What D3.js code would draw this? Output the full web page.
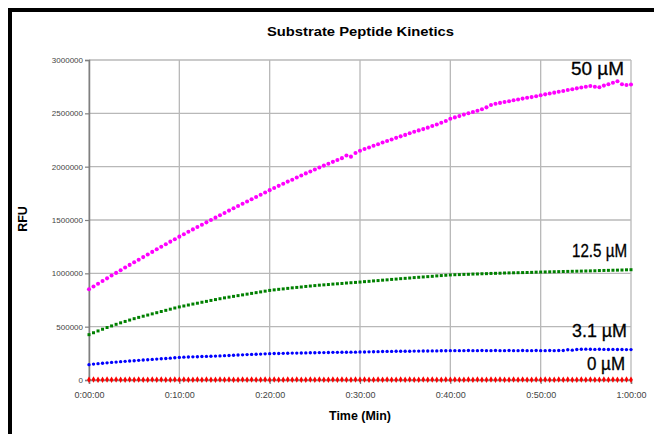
<!DOCTYPE html>
<head>
<meta charset="utf-8">
<title>Substrate Peptide Kinetics</title>
<style>
    body { margin:0; background:#fff; }
    svg { display:block; }
    text { font-family: Arial, "Liberation Sans", sans-serif; }
</style>
</head>
<body>
<svg width="654" height="434"></svg>

<script src="https://cdnjs.cloudflare.com/ajax/libs/d3/7.8.5/d3.min.js"></script>
<script>
// readings every 30 s, 0:00:00 .. 1:00:00 (RFU in thousands)
var minutes = d3.range(121).map(function(i){ return i * 0.5 });

var rfu50 = [850,876,902,928,953,979,1004,1029,1054,1079,1104,1128,1152,1177,1201,1225,1249,1273,1297,1320,1344,
  1367,1389,1412,1434,1456,1478,1500,1522,1544,1566,1588,1610,1631,1652,1674,1695,1716,1737,1758,1780,
  1800,1820,1840,1860,1878,1898,1917,1937,1955,1974,1992,2010,2027,2045,2062,2080,2104,2094,2128,2150,
  2166,2180,2196,2211,2226,2240,2254,2270,2284,2298,2314,2328,2340,2352,2366,2382,2396,2412,2428,2450,
  2462,2474,2488,2500,2512,2524,2538,2556,2578,2590,2598,2606,2614,2622,2630,2638,2646,2652,2660,2670,
  2678,2686,2694,2702,2710,2718,2726,2734,2742,2750,2756,2750,2744,2760,2772,2786,2800,2772,2766,2770];

var rfu12_5 = [425,443,460,476,492,507,522,536,549,562,575,
  587,598,609,620,631,642,653,664,675,685,
  694,703,712,720,729,737,746,754,762,770,
  777,784,791,798,805,812,819,826,833,840,
  845,850,854,859,864,868,872,877,881,885,
  889,892,895,899,902,905,909,912,915,918,
  922,925,929,932,936,939,943,946,950,953,
  956,960,963,966,969,972,976,979,982,985,
  987,988,990,991,993,994,996,997,999,1000,
  1001,1003,1004,1005,1006,1007,1008,1009,1011,1012,
  1013,1014,1015,1016,1017,1018,1019,1020,1021,1022,
  1023,1024,1026,1027,1028,1029,1030,1031,1033,1034];

var rfu3_1 = [144,149,153,157,161,165,168,172,175,178,181,
  184,187,190,193,196,199,202,205,209,212,
  214,215,217,218,220,221,223,224,226,228,
  230,232,234,236,238,240,241,243,245,247,
  248,249,250,251,252,252,253,254,255,256,
  257,257,258,259,259,260,260,261,261,262,
  263,264,265,266,267,268,268,269,269,270,
  270,271,271,272,272,273,273,274,274,275,
  275,275,275,276,275,275,276,275,275,276,
  275,275,276,275,275,276,275,275,276,275,
  275,276,275,276,276,284,280,286,288,289,
  288,287,288,287,286,287,286,286,285,285];

var rfu0 = [3,4,3,3,4,3,4,3,3,4,3,4,3,3,4,3,4,3,3,4,3,
  4,3,3,4,3,4,3,3,4,3,4,3,3,4,3,4,3,3,4,3,
  4,3,3,4,3,4,3,3,4,3,4,3,3,4,3,4,3,3,4,3,
  4,3,3,4,3,4,3,3,4,3,4,3,3,4,3,4,3,3,4,3,
  4,3,3,4,3,4,3,3,4,3,4,3,3,4,3,4,3,3,4,3,
  4,3,3,4,3,4,3,3,4,3,4,3,3,4,3,4,3,3,4,3];

var seriesNames = ["50 µM", "12.5 µM", "3.1 µM", "0 µM"];
var seriesValues = [rfu50, rfu12_5, rfu3_1, rfu0];

var xTicks = [0, 10, 20, 30, 40, 50, 60];
var xTickLabels = ["0:00:00", "0:10:00", "0:20:00", "0:30:00", "0:40:00", "0:50:00", "1:00:00"];
var yTicks = [0, 500000, 1000000, 1500000, 2000000, 2500000, 3000000];

var svg = d3.select("svg");

// outer frame (cut off at right and bottom)
svg.append("rect")
    .attr("x", 10).attr("y", 10).attr("width", 720).attr("height", 520)
    .attr("fill", "none").attr("stroke", "#000").attr("stroke-width", 4);

var x = d3.scaleLinear().domain([0, 60]).range([89, 631]);
var y = d3.scaleLinear().domain([0, 3000000]).range([380, 60]);

// grid
svg.append("g").selectAll("line").data(yTicks).enter().append("line")
    .attr("x1", 89).attr("x2", 631)
    .attr("y1", function(d){ return y(d) }).attr("y2", function(d){ return y(d) })
    .attr("stroke", "#b8b8b8").attr("stroke-width", 1.3);
svg.append("g").selectAll("line").data(xTicks).enter().append("line")
    .attr("y1", 60).attr("y2", 380)
    .attr("x1", function(d){ return x(d) }).attr("x2", function(d){ return x(d) })
    .attr("stroke", "#b8b8b8").attr("stroke-width", 1.3);

// axes
var yAxis = svg.append("g")
    .attr("transform", "translate(89,0)")
    .call(d3.axisLeft(y).tickValues(yTicks).tickSize(4).tickPadding(2).tickFormat(d3.format("d")));
var xAxis = svg.append("g")
    .attr("transform", "translate(0,380)")
    .call(d3.axisBottom(x).tickValues(xTicks).tickSize(4).tickPadding(8)
        .tickFormat(function(d, i){ return xTickLabels[i] }));

[yAxis, xAxis].forEach(function(a){
  a.select(".domain").attr("stroke", "#808080").attr("stroke-width", 1.5);
  a.selectAll(".tick line").attr("stroke", "#808080").attr("stroke-width", 1.2);
  a.selectAll(".tick text").attr("fill", "#444").style("font-family", "Arial, 'Liberation Sans', sans-serif");
});
yAxis.selectAll(".tick text").attr("font-size", 8);
xAxis.selectAll(".tick text").attr("font-size", 9);

// series markers
var colors = ["#ff00ff", "#008000", "#0000ff", "#ff0000"];
var shapes = [d3.symbolCircle, d3.symbolSquare, d3.symbolCircle, d3.symbolDiamond];
var sizes = [13, 9, 9, 12];

seriesValues.forEach(function(vals, s){
  svg.append("g").selectAll("path").data(vals).enter().append("path")
      .attr("d", d3.symbol().type(shapes[s]).size(sizes[s]))
      .attr("transform", function(d, i){ return "translate(" + x(minutes[i]) + "," + y(d * 1000) + ")" })
      .attr("fill", colors[s]);
});

// series labels
var labelPos = [[624, 75, 53], [627, 257, 55], [627, 337, 55], [625, 370, 38]];
seriesNames.forEach(function(n, i){
  svg.append("text")
      .attr("x", labelPos[i][0] - labelPos[i][2]).attr("y", labelPos[i][1])
      .attr("textLength", labelPos[i][2]).attr("lengthAdjust", "spacingAndGlyphs")
      .attr("font-size", 18).attr("fill", "#000")
      .attr("stroke", "#000").attr("stroke-width", 0.3)
      .text(n);
});

// titles
svg.append("text")
    .attr("x", 267).attr("y", 36)
    .attr("textLength", 187).attr("lengthAdjust", "spacingAndGlyphs")
    .attr("font-size", 13).attr("font-weight", "bold")
    .text("Substrate Peptide Kinetics");

svg.append("text")
    .attr("x", 329).attr("y", 420)
    .attr("textLength", 62).attr("lengthAdjust", "spacingAndGlyphs")
    .attr("font-size", 12).attr("font-weight", "bold")
    .text("Time (Min)");

svg.append("text")
    .attr("transform", "translate(27,219) rotate(-90)")
    .attr("text-anchor", "middle")
    .attr("font-size", 12.5).attr("font-weight", "bold")
    .text("RFU");
</script>
</body>
